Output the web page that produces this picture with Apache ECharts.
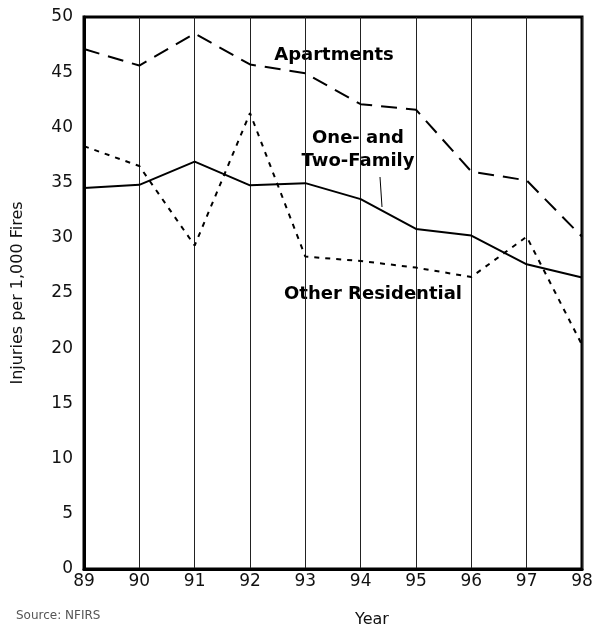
<!DOCTYPE html>
<html>
<head>
<meta charset="utf-8">
<script src="https://cdn.jsdelivr.net/npm/echarts@6/dist/echarts.min.js"></script>
<style>html,body{margin:0;padding:0;background:#fff}#c{width:592px;height:632px}</style>
</head>
<body>
<div id="c"></div>
<script>
const years = ['89','90','91','92','93','94','95','96','97','98'];
const apartments = [47.1, 45.6, 48.5, 45.7, 44.9, 42.1, 41.6, 36.0, 35.2, 30.1];
const oneTwoFamily = [34.5, 34.8, 36.9, 34.75, 34.95, 33.5, 30.8, 30.2, 27.6, 26.4];
const otherResidential = [38.3, 36.5, 29.3, 41.3, 28.3, 27.9, 27.3, 26.45, 30.1, 20.3];
const yTicks = [0, 5, 10, 15, 20, 25, 30, 35, 40, 45, 50];

const FONT = 'DejaVu Sans';
const BOLD = 'bold 18px "DejaVu Sans"';
const chart = echarts.init(document.getElementById('c'));
chart.setOption({
  animation: false,
  backgroundColor: '#fff',
  grid: { left: 84, right: 10, top: 17, bottom: 63, show: true, borderColor: '#000', borderWidth: 3,
          backgroundColor: 'transparent', outerBoundsMode: 'none', containLabel: false },
  xAxis: {
    type: 'category', data: years, boundaryGap: false,
    axisLine: { lineStyle: { color: '#000', width: 3 } },
    axisTick: { show: false },
    axisLabel: { fontFamily: FONT, fontSize: 17, color: '#111', margin: 4 },
    splitLine: { show: true, lineStyle: { color: '#222', width: 1 } }
  },
  yAxis: {
    type: 'value', min: 0, max: 50, interval: 5,
    name: 'Injuries per 1,000 Fires', nameLocation: 'middle', nameGap: 58,
    nameTextStyle: { fontFamily: FONT, fontSize: 16, color: '#111' },
    axisLine: { show: true, lineStyle: { color: '#000', width: 3 } },
    axisTick: { show: false },
    axisLabel: { fontFamily: FONT, fontSize: 17, color: '#111', margin: 11,
      formatter: v => yTicks.includes(v) ? String(v) : '' },
    splitLine: { show: false }
  },
  series: [
    { name: 'Apartments', type: 'line', data: apartments, symbol: 'none',
      lineStyle: { color: '#000', width: 2, type: [16, 9] } },
    { name: 'One- and Two-Family', type: 'line', data: oneTwoFamily, symbol: 'none',
      lineStyle: { color: '#000', width: 2 } },
    { name: 'Other Residential', type: 'line', data: otherResidential, symbol: 'none',
      lineStyle: { color: '#000', width: 2, type: [5, 6] } }
  ],
  graphic: [
    { type: 'text', x: 334, y: 55, style: { text: 'Apartments', font: BOLD, fill: '#000', align: 'center', verticalAlign: 'middle' } },
    { type: 'text', x: 358, y: 138, style: { text: 'One- and', font: BOLD, fill: '#000', align: 'center', verticalAlign: 'middle' } },
    { type: 'text', x: 358, y: 161, style: { text: 'Two-Family', font: BOLD, fill: '#000', align: 'center', verticalAlign: 'middle' } },
    { type: 'line', shape: { x1: 380, y1: 177, x2: 382, y2: 207 }, style: { stroke: '#000', lineWidth: 1 } },
    { type: 'text', x: 373, y: 294, style: { text: 'Other Residential', font: BOLD, fill: '#000', align: 'center', verticalAlign: 'middle' } },
    { type: 'text', x: 372, y: 620, style: { text: 'Year', font: '16px "DejaVu Sans"', fill: '#111', align: 'center', verticalAlign: 'middle' } },
    { type: 'text', x: 16, y: 616, style: { text: 'Source: NFIRS', font: '12px "DejaVu Sans"', fill: '#555', align: 'left', verticalAlign: 'middle' } }
  ]
});
</script>
</body>
</html>
